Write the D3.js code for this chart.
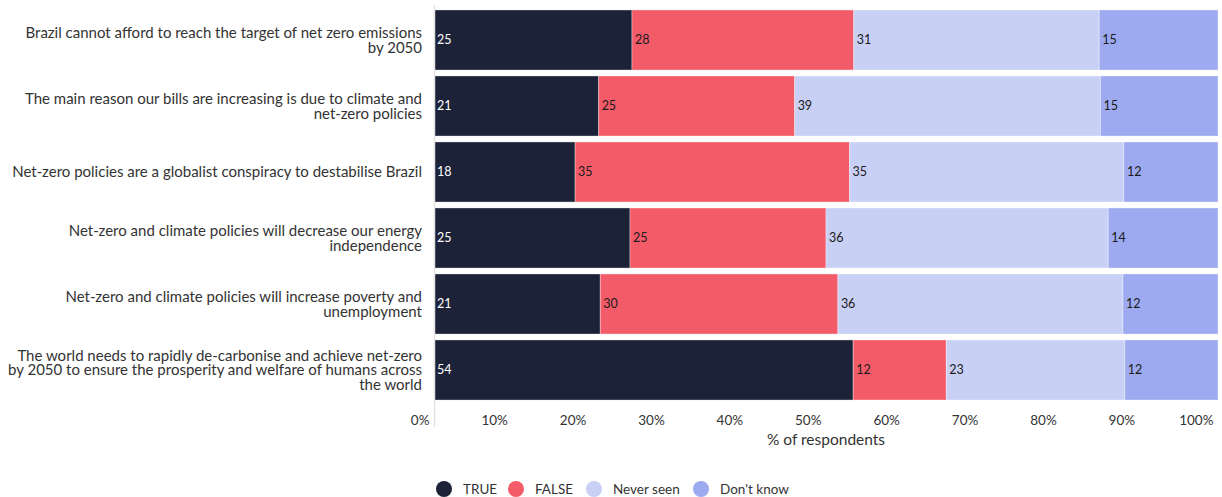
<!DOCTYPE html>
<html>
<head>
<meta charset="utf-8">
<script src="https://cdn.jsdelivr.net/npm/d3@7"></script>
<style>
  html, body { margin: 0; padding: 0; background: #fff; }
  svg { display: block; font-family: Lato, "Noto Sans", sans-serif; }
</style>
</head>
<body>
<svg id="chart" width="1222" height="497"></svg>
<script>
// Survey statements (line breaks mark where each label wraps)
const categories = [
  "Brazil cannot afford to reach the target of net zero emissions\nby 2050",
  "The main reason our bills are increasing is due to climate and\nnet-zero policies",
  "Net-zero policies are a globalist conspiracy to destabilise Brazil",
  "Net-zero and climate policies will decrease our energy\nindependence",
  "Net-zero and climate policies will increase poverty and\nunemployment",
  "The world needs to rapidly de-carbonise and achieve net-zero\nby 2050 to ensure the prosperity and welfare of humans across\nthe world"
];

const seriesNames = ["TRUE", "FALSE", "Never seen", "Don't know"];

// Percent of respondents per answer, one entry per statement
const trueValues      = [25, 21, 18, 25, 21, 54];
const falseValues     = [28, 25, 35, 25, 30, 12];
const neverSeenValues = [31, 39, 35, 36, 36, 23];
const dontKnowValues  = [15, 15, 12, 14, 12, 12];

const tickValues = [0, 0.1, 0.2, 0.3, 0.4, 0.5, 0.6, 0.7, 0.8, 0.9, 1.0];
const axisTitle = "% of respondents";

const colors = ["#1c2237", "#f45b69", "#c9d0f5", "#9daaf0"];
const labelColors = ["#ffffff", "#1a1a1a", "#1a1a1a", "#1a1a1a"];

const rows = categories.map((c, i) => ({
  category: c,
  "TRUE": trueValues[i],
  "FALSE": falseValues[i],
  "Never seen": neverSeenValues[i],
  "Don't know": dontKnowValues[i]
}));

const svg = d3.select("#chart");

const x = d3.scaleLinear().domain([0, 1]).range([434, 1218]);
const y = d3.scaleBand().domain(categories).range([7, 403]).paddingInner(0.09).paddingOuter(0.045);
const color = d3.scaleOrdinal().domain(seriesNames).range(colors);
const labelColor = d3.scaleOrdinal().domain(seriesNames).range(labelColors);

// Each row is stacked to fill the full width
const stack = d3.stack().keys(seriesNames).offset(d3.stackOffsetExpand);
const layers = stack(rows);

const g = svg.append("g");

layers.forEach(layer => {
  const key = layer.key;
  const grp = g.append("g");
  grp.selectAll("rect")
    .data(layer)
    .join("rect")
    .attr("x", d => x(d[0]))
    .attr("y", d => y(d.data.category))
    .attr("width", d => x(d[1]) - x(d[0]))
    .attr("height", y.bandwidth())
    .attr("fill", color(key))
    .attr("stroke", "rgba(255,255,255,0.35)")
    .attr("stroke-width", 1);

  grp.selectAll("text")
    .data(layer)
    .join("text")
    .attr("x", d => x(d[0]) + 3)
    .attr("y", d => y(d.data.category) + y.bandwidth() / 2)
    .attr("dy", "0.35em")
    .attr("font-size", 12.5)
    .attr("fill", labelColor(key))
    .text(d => d.data[key]);
});

// Vertical baseline
svg.append("line")
  .attr("x1", 434.5).attr("x2", 434.5)
  .attr("y1", 5).attr("y2", 427)
  .attr("stroke", "#e3e3e3")
  .attr("stroke-width", 1.5);

// Category labels
const catLabels = svg.append("g");
categories.forEach(c => {
  const lines = c.split("\n");
  const lh = 14.5;
  const cy = y(c) + y.bandwidth() / 2;
  const t = catLabels.append("text")
    .attr("text-anchor", "end")
    .attr("font-size", 15)
    .attr("fill", "#333");
  lines.forEach((ln, k) => {
    t.append("tspan")
      .attr("x", 422)
      .attr("y", cy + (k - (lines.length - 1) / 2) * lh)
      .attr("dy", "0.35em")
      .text(ln);
  });
});

// Bottom axis: labels sit just left of their ticks
const xAxis = d3.axisBottom(x).tickValues(tickValues).tickFormat(d3.format(".0%")).tickSize(0);
const axG = svg.append("g").attr("transform", "translate(0,410)").call(xAxis);
axG.select(".domain").remove();
axG.selectAll("text")
  .attr("text-anchor", "end")
  .attr("dx", -5)
  .attr("dy", "0.9em")
  .attr("font-size", 13.5)
  .attr("font-family", "Lato, 'Noto Sans', sans-serif")
  .attr("fill", "#333");

svg.append("text")
  .attr("x", (x(0) + x(1)) / 2)
  .attr("y", 445)
  .attr("text-anchor", "middle")
  .attr("font-size", 15.5)
  .attr("fill", "#333")
  .text(axisTitle);

// Legend
const legendX = [444, 516, 594, 701];
const legend = svg.append("g");
seriesNames.forEach((s, i) => {
  legend.append("circle")
    .attr("cx", legendX[i]).attr("cy", 489).attr("r", 8)
    .attr("fill", color(s));
  legend.append("text")
    .attr("x", legendX[i] + 19).attr("y", 489)
    .attr("dy", "0.35em")
    .attr("font-size", 13.5)
    .attr("fill", "#333")
    .text(s);
});
</script>
</body>
</html>
